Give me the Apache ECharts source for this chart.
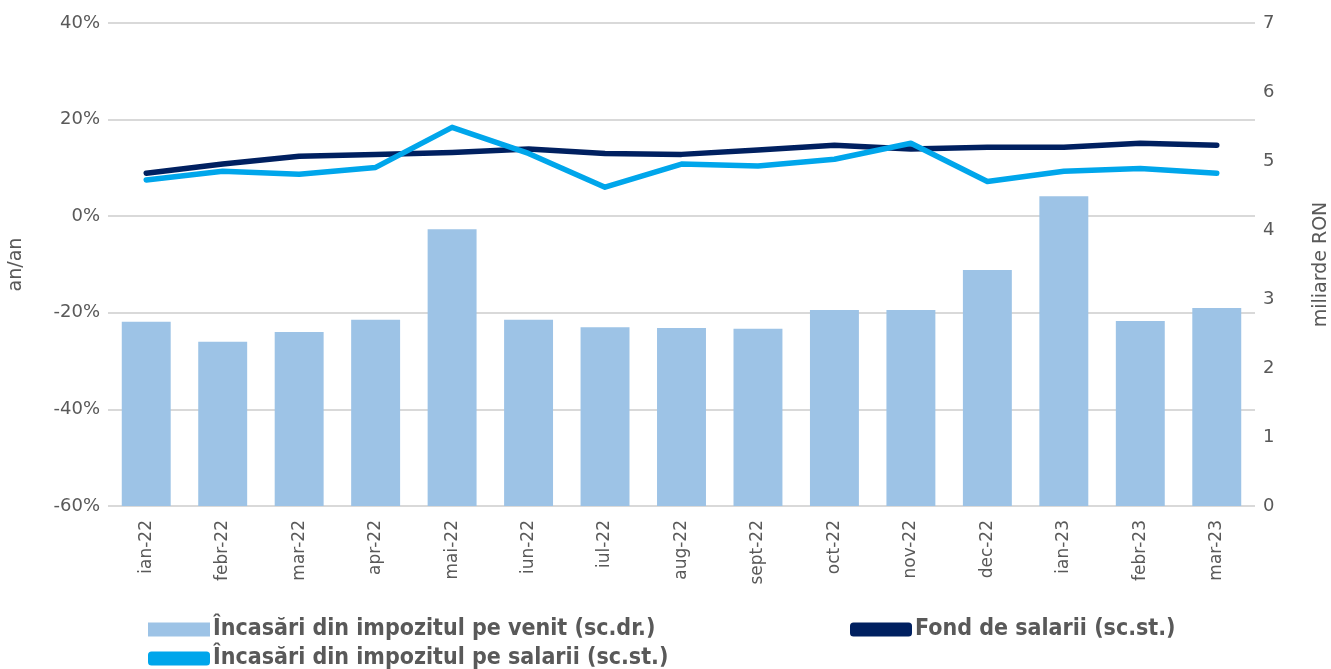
<!DOCTYPE html>
<html>
<head>
<meta charset="utf-8">
<script src="https://cdn.jsdelivr.net/npm/echarts@6/dist/echarts.min.js"></script>
<style>
  html, body { margin: 0; padding: 0; background: #fff; }
  #chart { width: 1331px; height: 669px; }
</style>
</head>
<body>
<div id="chart"></div>
<script>
// luni
const months = ["ian-22", "febr-22", "mar-22", "apr-22", "mai-22", "iun-22", "iul-22", "aug-22",
  "sept-22", "oct-22", "nov-22", "dec-22", "ian-23", "febr-23", "mar-23"];
// miliarde RON (scala dreapta)
const impozitVenit = [2.67, 2.38, 2.52, 2.70, 4.01, 2.70, 2.59, 2.58, 2.57, 2.84, 2.84, 3.42, 4.49, 2.68, 2.87];
// an/an, % (scala stanga)
const fondSalarii = [8.9, 10.8, 12.4, 12.8, 13.2, 13.9, 13.0, 12.8, 13.7, 14.7, 13.9, 14.3, 14.3, 15.1, 14.7];
const impozitSalarii = [7.5, 9.3, 8.7, 10.1, 18.4, 13.0, 6.0, 10.8, 10.4, 11.8, 15.1, 7.2, 9.3, 9.9, 8.9];

const txtColor = "#595959";
const chart = echarts.init(document.getElementById("chart"));
const legendText = {
  color: txtColor,
  fontSize: 23,
  fontWeight: "bold",
  fontFamily: "DejaVu Sans Condensed",
  padding: [0, 0, 0, -2]
};

// o legenda pentru fiecare element, ca in original
function legendAt(left, top, name, icon) {
  return {
    left: left, top: top,
    itemWidth: 62, itemHeight: 14, itemGap: 0,
    data: [{ name: name, icon: icon }],
    textStyle: legendText
  };
}

chart.setOption({
  animation: false,
  textStyle: { fontFamily: "DejaVu Sans" },
  grid: { left: 108, right: 76, top: 23, bottom: 163, outerBoundsMode: "none" },
  legend: [
    legendAt(143, 613, "Încasări din impozitul pe venit (sc.dr.)", "rect"),
    legendAt(143, 642, "Încasări din impozitul pe salarii (sc.st.)", "roundRect"),
    legendAt(845, 613, "Fond de salarii (sc.st.)", "roundRect")
  ],
  xAxis: {
    type: "category",
    data: months,
    axisLine: { show: false },
    axisTick: { show: false },
    axisLabel: { rotate: 90, color: txtColor, fontSize: 17, margin: 14 }
  },
  yAxis: [
    {
      type: "value",
      min: -60, max: 40, interval: 20,
      name: "an/an",
      nameLocation: "middle",
      nameGap: 82,
      nameTextStyle: { color: txtColor, fontSize: 19 },
      axisLabel: { formatter: "{value}%", color: txtColor, fontSize: 18, margin: 8 },
      axisLine: { show: false },
      axisTick: { show: false },
      splitLine: { lineStyle: { color: "#d9d9d9", width: 2 } }
    },
    {
      type: "value",
      min: 0, max: 7, interval: 1,
      name: "miliarde RON",
      nameLocation: "middle",
      nameGap: 57,
      nameTextStyle: { color: txtColor, fontSize: 19 },
      axisLabel: { color: txtColor, fontSize: 18, margin: 8 },
      axisLine: { show: false },
      axisTick: { show: false },
      splitLine: { show: false }
    }
  ],
  series: [
    {
      name: "Încasări din impozitul pe venit (sc.dr.)",
      type: "bar",
      yAxisIndex: 1,
      data: impozitVenit,
      barWidth: "64%",
      itemStyle: { color: "#9dc3e6" }
    },
    {
      name: "Fond de salarii (sc.st.)",
      type: "line",
      yAxisIndex: 0,
      data: fondSalarii,
      symbol: "none",
      lineStyle: { color: "#002060", width: 5.5, cap: "round", join: "round" },
      itemStyle: { color: "#002060" }
    },
    {
      name: "Încasări din impozitul pe salarii (sc.st.)",
      type: "line",
      yAxisIndex: 0,
      data: impozitSalarii,
      symbol: "none",
      lineStyle: { color: "#00a6eb", width: 5.5, cap: "round", join: "round" },
      itemStyle: { color: "#00a6eb" }
    }
  ]
});
</script>
</body>
</html>
